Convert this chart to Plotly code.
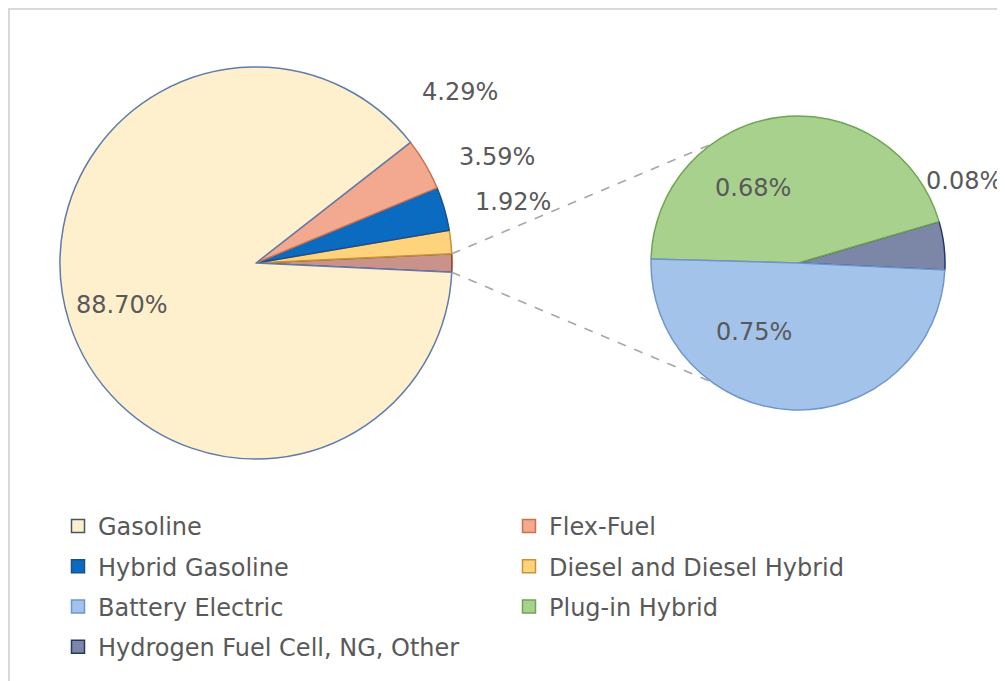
import math
import plotly.graph_objects as go

# ---------------- data ----------------
main_labels = ["Gasoline", "Flex-Fuel", "Hybrid Gasoline", "Diesel and Diesel Hybrid"]
main_values = [88.70, 4.29, 3.59, 1.92]
sub_labels = ["Battery Electric", "Plug-in Hybrid", "Hydrogen Fuel Cell, NG, Other"]
sub_values = [0.75, 0.68, 0.08]
other_label = "Other (split)"
other_value = round(sum(sub_values), 2)   # the slice of the main pie broken out

# ---------------- styles ----------------
# the page body has an 8px margin, so the figure is drawn 8px in from the top-left
OFF = 8
W, H = 1005 - OFF, 681 - OFF
FONT = "DejaVu Sans"
TXT = "#595959"
FS = 24

fill = {
    "Gasoline": "#FFF0CD",
    "Flex-Fuel": "#F2A98F",
    "Hybrid Gasoline": "#0B6BC1",
    "Diesel and Diesel Hybrid": "#FFD37C",
    "Battery Electric": "#A3C3EA",
    "Plug-in Hybrid": "#A9D18E",
    "Hydrogen Fuel Cell, NG, Other": "#7C86A7",
    other_label: "#C9928A",
}
edge = {
    "Gasoline": "#5F7BAE",
    "Flex-Fuel": "#C8714F",
    "Hybrid Gasoline": "#1F4E8C",
    "Diesel and Diesel Hybrid": "#C49335",
    "Battery Electric": "#6D97CC",
    "Plug-in Hybrid": "#70A454",
    "Hydrogen Fuel Cell, NG, Other": "#24396A",
    other_label: "#8E3A1F",
}

# pie geometry (page pixels)
MAIN_C, MAIN_R = (256, 263), 196
SUB_C, SUB_R = (798, 263), 147


def px(x, y):
    """page pixel -> paper coordinate"""
    return (x - OFF) / W, 1 - (y - OFF) / H


def dom(c, r):
    x0, y1 = px(c[0] - r, c[1] - r)
    x1, y0 = px(c[0] + r, c[1] + r)
    return dict(x=[x0, x1], y=[y0, y1])


# the broken-out slice is centred on 3 o'clock; slices run counterclockwise
main_total = sum(main_values) + other_value
start_deg = -other_value / main_total * 180.0       # math angle where the first slice starts


def ccw_rotation(first_value, total):
    # plotly (counterclockwise): rotation marks the boundary after the first slice
    boundary = start_deg + first_value / total * 360.0
    return 90 - boundary


main_order_labels = [other_label] + main_labels[::-1]
main_order_values = [other_value] + main_values[::-1]
sub_order_labels = sub_labels[::-1]
sub_order_values = sub_values[::-1]

fig = go.Figure()
fig.add_trace(go.Pie(
    labels=main_order_labels, values=main_order_values, sort=False,
    direction="counterclockwise", rotation=ccw_rotation(other_value, main_total),
    domain=dom(MAIN_C, MAIN_R),
    marker=dict(colors=[fill[l] for l in main_order_labels],
                line=dict(color=[edge[l] for l in main_order_labels], width=1.5)),
    textinfo="none", showlegend=False, hoverinfo="label+value",
))
fig.add_trace(go.Pie(
    labels=sub_order_labels, values=sub_order_values, sort=False,
    direction="counterclockwise",
    rotation=ccw_rotation(sub_order_values[0], sum(sub_values)),
    domain=dom(SUB_C, SUB_R),
    marker=dict(colors=[fill[l] for l in sub_order_labels],
                line=dict(color=[edge[l] for l in sub_order_labels], width=1.5)),
    textinfo="none", showlegend=False, hoverinfo="label+value",
))

# legend entries (two columns)
col1 = ["Gasoline", "Hybrid Gasoline", "Battery Electric", "Hydrogen Fuel Cell, NG, Other"]
for name in main_labels + sub_labels:
    fig.add_trace(go.Scatter(
        x=[None], y=[None], mode="markers", name=name, legendgroup=name,
        legend="legend" if name in col1 else "legend2",
        marker=dict(symbol="square", size=13, color=fill[name],
                    line=dict(color=edge[name] if name != "Gasoline" else "#44546A", width=1.5)),
        hoverinfo="skip",
    ))

# percentage labels (page pixel centres of the text)
label_pos = {
    "Gasoline": (122, 305),
    "Flex-Fuel": (460, 92),
    "Hybrid Gasoline": (497, 157),
    "Diesel and Diesel Hybrid": (513, 202),
    "Plug-in Hybrid": (753, 188),
    "Battery Electric": (754, 332),
    "Hydrogen Fuel Cell, NG, Other": (964, 181),
}
annotations = []
for name, v in list(zip(main_labels, main_values)) + list(zip(sub_labels, sub_values)):
    x, y = px(*label_pos[name])
    annotations.append(dict(
        x=x, y=y, xref="paper", yref="paper", text=f"{v:.2f}%", showarrow=False,
        xanchor="center", yanchor="middle", font=dict(family=FONT, size=FS, color=TXT),
    ))

# connector lines: edges of the broken-out slice to the second pie
shapes = []
for a_main, a_sub in ((-start_deg, 126), (start_deg, 234)):
    a0, a1 = math.radians(a_main), math.radians(a_sub)
    x0, y0 = px(MAIN_C[0] + MAIN_R * math.cos(a0), MAIN_C[1] - MAIN_R * math.sin(a0))
    x1, y1 = px(SUB_C[0] + SUB_R * math.cos(a1), SUB_C[1] - SUB_R * math.sin(a1))
    shapes.append(dict(type="line", xref="paper", yref="paper", x0=x0, y0=y0, x1=x1, y1=y1,
                       line=dict(color="#A6A6A6", width=1.5, dash="dash")))

# chart frame (top and left edges visible)
fx0, fy1 = px(9, 9)
shapes.append(dict(type="rect", xref="paper", yref="paper", x0=fx0, y0=-0.05, x1=1.05, y1=fy1,
                   line=dict(color="#D9D9D9", width=2), layer="below"))

leg_font = dict(family=FONT, size=FS, color=TXT)
lx1, ly = px(58, 504)
lx2, _ = px(509, 504)
fig.update_layout(
    width=W, height=H, margin=dict(l=0, r=0, t=0, b=0),
    paper_bgcolor="white", plot_bgcolor="white",
    xaxis=dict(visible=False), yaxis=dict(visible=False),
    annotations=annotations, shapes=shapes,
    legend=dict(x=lx1, y=ly, xanchor="left", yanchor="top", font=leg_font,
                traceorder="grouped", tracegroupgap=6, bgcolor="rgba(0,0,0,0)", itemclick=False),
    legend2=dict(x=lx2, y=ly, xanchor="left", yanchor="top", font=leg_font,
                 traceorder="grouped", tracegroupgap=6, bgcolor="rgba(0,0,0,0)", itemclick=False),
    showlegend=True,
)

fig.write_html("out.html")
